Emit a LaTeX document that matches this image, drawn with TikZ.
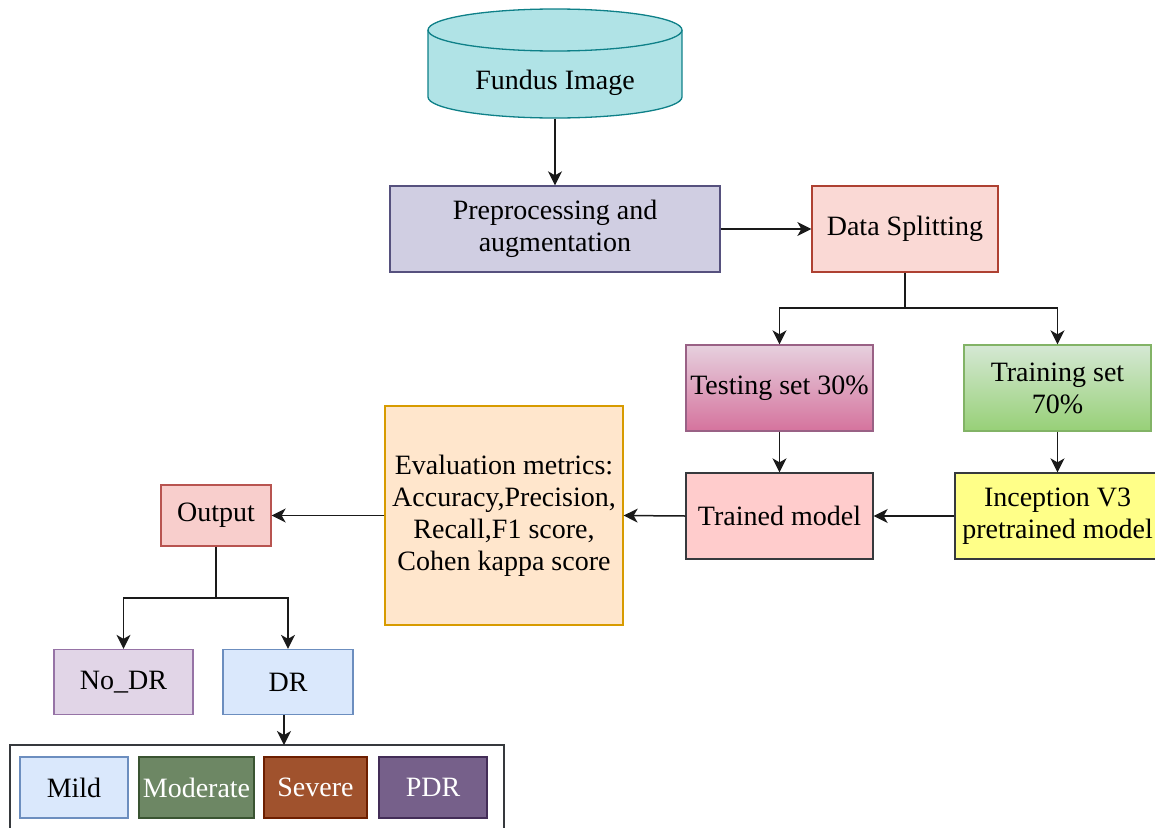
\documentclass[tikz,border=0pt]{standalone}
\usepackage{fontspec}
\setmainfont{Liberation Serif}
\usetikzlibrary{arrows.meta}
\definecolor{cylfill}{HTML}{B0E3E6}
\definecolor{cyldraw}{HTML}{0E8088}
\definecolor{prefill}{HTML}{D0CEE2}
\definecolor{predraw}{HTML}{56517E}
\definecolor{dsfill}{HTML}{FAD9D5}
\definecolor{dsdraw}{HTML}{AE4132}
\definecolor{testtop}{HTML}{E6D0DE}
\definecolor{testbot}{HTML}{D5739D}
\definecolor{testdraw}{HTML}{996185}
\definecolor{traintop}{HTML}{D5E8D4}
\definecolor{trainbot}{HTML}{97D077}
\definecolor{traindraw}{HTML}{82B366}
\definecolor{tmfill}{HTML}{FFCCCC}
\definecolor{darkdraw}{HTML}{36393D}
\definecolor{incfill}{HTML}{FFFF88}
\definecolor{evfill}{HTML}{FFE6CC}
\definecolor{evdraw}{HTML}{D79B00}
\definecolor{outfill}{HTML}{F8CECC}
\definecolor{outdraw}{HTML}{B85450}
\definecolor{ndfill}{HTML}{E1D5E7}
\definecolor{nddraw}{HTML}{9673A6}
\definecolor{drfill}{HTML}{DAE8FC}
\definecolor{drdraw}{HTML}{6C8EBF}
\definecolor{modfill}{HTML}{6D8764}
\definecolor{moddraw}{HTML}{3A5431}
\definecolor{sevfill}{HTML}{A0522D}
\definecolor{sevdraw}{HTML}{6D1F00}
\definecolor{pdrfill}{HTML}{76608A}
\definecolor{pdrdraw}{HTML}{432D57}
\definecolor{linecol}{HTML}{1A1A1A}
\tikzset{
  box/.style={draw, line width=1.3pt, inner sep=0pt, align=center, font=\fontsize{28}{32}\selectfont},
  conn/.style={draw=linecol, line width=1.5pt},
  arr/.style={conn, -{Stealth[length=14pt,width=14pt,inset=4pt]}},
}
\begin{document}
\begin{tikzpicture}[x=1pt,y=-1pt]
\useasboundingbox (0,0) rectangle (1155,827);
% cylinder
\fill[cylfill] (428,30) rectangle (682,97);
\fill[cylfill] (555,97) ellipse[x radius=127, y radius=21];
\draw[cyldraw, line width=1.3pt] (428,30) -- (428,97) arc[start angle=180, end angle=0, x radius=127, y radius=21] -- (682,30);
\draw[cyldraw, line width=1.3pt, fill=cylfill] (555,30) ellipse[x radius=127, y radius=21];
\node[box, draw=none, minimum width=254pt, minimum height=109pt] (fundus) at (555,63.5) {};
\node[font=\fontsize{28}{32}\selectfont] (fundustxt) at (555,83) {Fundus Image};

\node[box, fill=prefill, draw=predraw, minimum width=330pt, minimum height=86pt] (pre) at (555,229) {Preprocessing and\\augmentation};
\node[box, fill=dsfill, draw=dsdraw, minimum width=186pt, minimum height=86pt] (ds) at (905,229) {Data Splitting};
\node[box, top color=testtop, bottom color=testbot, draw=testdraw, minimum width=187pt, minimum height=86pt] (test) at (779.5,388) {Testing set 30\%};
\node[box, top color=traintop, bottom color=trainbot, draw=traindraw, minimum width=187pt, minimum height=86pt] (train) at (1057.5,388) {Training set\\70\%};
\node[box, fill=tmfill, draw=darkdraw, minimum width=187pt, minimum height=86pt] (tm) at (779.5,516) {Trained model};
\node[box, fill=incfill, draw=darkdraw, minimum width=205pt, minimum height=86pt] (inc) at (1057.5,516) {Inception V3\\pretrained model};
\node[box, fill=evfill, draw=evdraw, minimum width=238pt, minimum height=219pt] (ev) at (504,515.5) {Evaluation metrics:\\Accuracy,Precision,\\Recall,F1 score,\\Cohen kappa score};
\node[box, fill=outfill, draw=outdraw, minimum width=110pt, minimum height=61pt] (out) at (216,515.5) {Output};
\node[box, fill=ndfill, draw=nddraw, minimum width=139pt, minimum height=65pt] (nodr) at (123.5,682) {No\_DR};
\node[box, fill=drfill, draw=drdraw, minimum width=130pt, minimum height=65pt] (dr) at (288,682) {DR};
\draw[darkdraw, line width=1.5pt] (504,840) -- (504,745) -- (10,745) -- (10,840);
\coordinate (gradestop) at (284,745);
\node[box, fill=drfill, draw=drdraw, minimum width=108pt, minimum height=61pt] (mild) at (74,787.5) {Mild};
\node[box, fill=modfill, draw=moddraw, text=white, minimum width=115pt, minimum height=61pt] (mod) at (196.5,787.5) {Moderate};
\node[box, fill=sevfill, draw=sevdraw, text=white, minimum width=103pt, minimum height=61pt] (sev) at (315.5,787.5) {Severe};
\node[box, fill=pdrfill, draw=pdrdraw, text=white, minimum width=108pt, minimum height=61pt] (pdr) at (433,787.5) {PDR};

% connectors
\draw[arr] (fundus.south) -- (pre.north);
\draw[arr] (pre.east) -- (ds.west);
\coordinate (split) at (905,308);
\draw[conn] (ds.south) -- (split);
\draw[arr] (split) -| (test.north);
\draw[arr] (split) -| (train.north);
\draw[arr] (test.south) -- (tm.north);
\draw[arr] (train.south) -- (inc.north);
\draw[arr] (inc.west) -- (tm.east);
\draw[arr] (tm.west) -- (ev.east);
\draw[arr] (ev.west) -- (out.east);
\coordinate (obr) at (216,598);
\draw[conn] (out.south) -- (obr);
\draw[arr] (obr) -| (nodr.north);
\draw[arr] (obr) -| (dr.north);
\draw[arr] (dr.south -| gradestop) -- (gradestop);
\end{tikzpicture}
\end{document}
